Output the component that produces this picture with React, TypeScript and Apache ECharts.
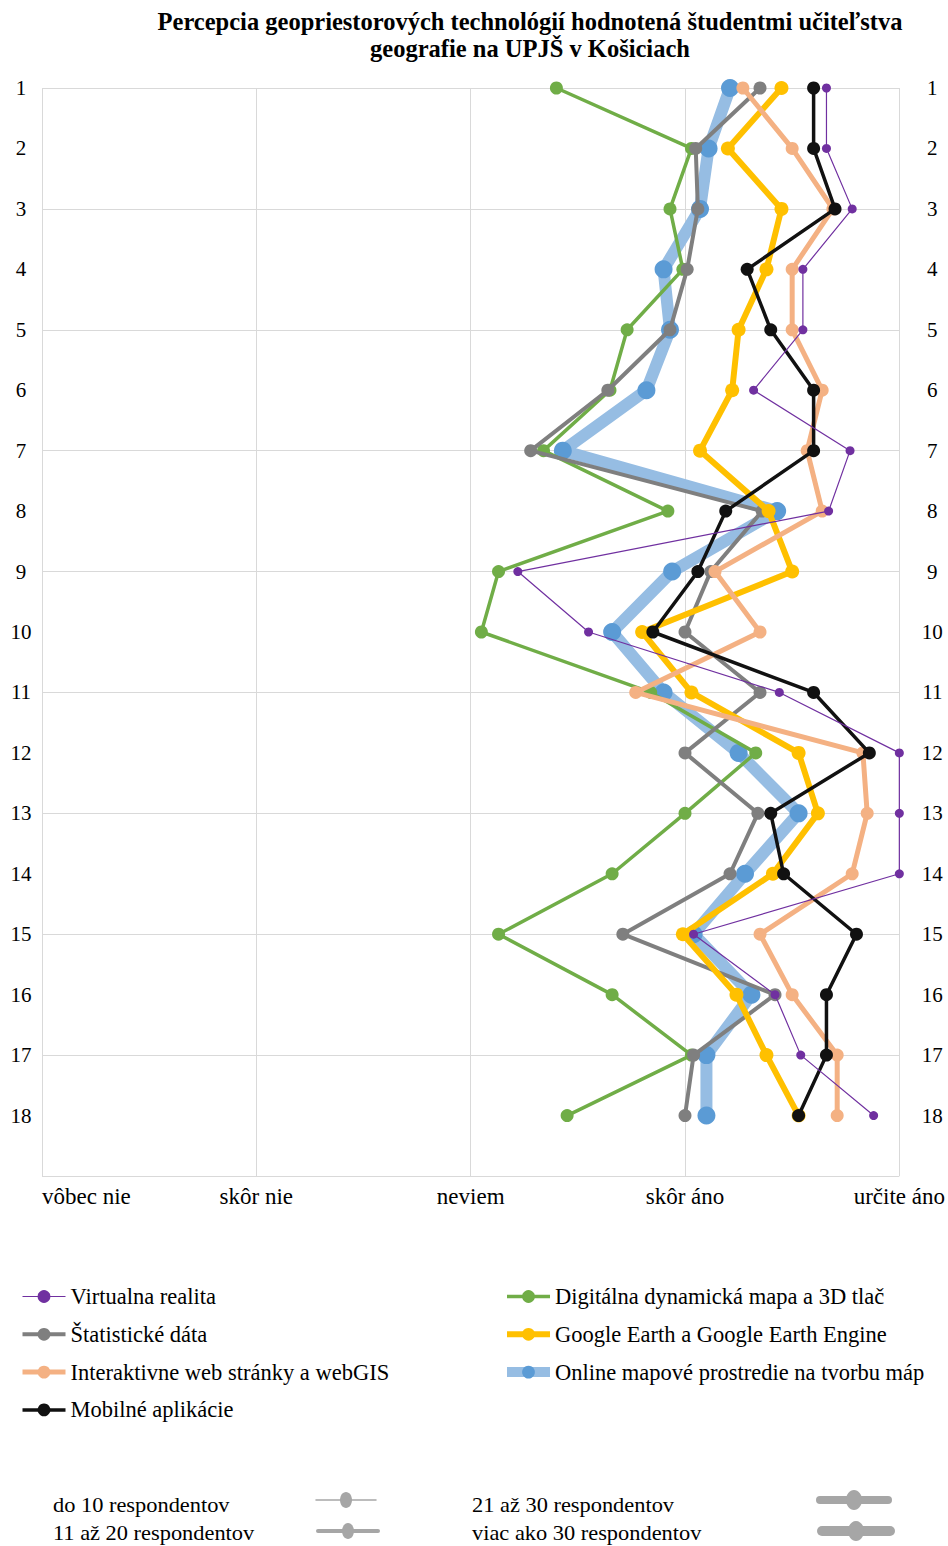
import React, { useEffect, useRef } from 'react';
import * as echarts from 'echarts';

const xLabels = ['vôbec nie', 'skôr nie', 'neviem', 'skôr áno', 'určite áno'];
const itemNumbers = [1, 2, 3, 4, 5, 6, 7, 8, 9, 10, 11, 12, 13, 14, 15, 16, 17, 18];

const virtualnaRealita = [4.66, 4.66, 4.78, 4.55, 4.55, 4.32, 4.77, 4.67, 3.22, 3.55, 4.44, 5.0, 5.0, 5.0, 4.04, 4.42, 4.54, 4.88];
const digitalnaMapa = [3.40, 4.03, 3.93, 3.99, 3.73, 3.65, 3.34, 3.92, 3.13, 3.05, 3.84, 4.33, 4.0, 3.66, 3.13, 3.66, 4.03, 3.45];
const statistickeData = [4.35, 4.05, 4.06, 4.01, 3.93, 3.64, 3.28, 4.36, 4.12, 4.0, 4.35, 4.0, 4.34, 4.21, 3.71, 4.42, 4.04, 4.0];
const googleEarth = [4.45, 4.20, 4.45, 4.38, 4.25, 4.22, 4.07, 4.39, 4.50, 3.80, 4.03, 4.53, 4.62, 4.41, 3.99, 4.24, 4.38, 4.53];
const interaktivneWeb = [4.27, 4.50, 4.69, 4.50, 4.50, 4.64, 4.57, 4.64, 4.14, 4.35, 3.77, 4.83, 4.85, 4.78, 4.35, 4.50, 4.71, 4.71];
const onlineMapove = [4.21, 4.11, 4.07, 3.90, 3.93, 3.82, 3.43, 4.43, 3.94, 3.66, 3.90, 4.25, 4.53, 4.28, 4.04, 4.31, 4.10, 4.10];
const mobilneAplikacie = [4.60, 4.60, 4.70, 4.29, 4.40, 4.60, 4.60, 4.19, 4.06, 3.85, 4.60, 4.86, 4.40, 4.46, 4.80, 4.66, 4.66, 4.53];

const seriesNames = [
  'Virtualna realita',
  'Digitálna dynamická mapa a 3D tlač',
  'Štatistické dáta',
  'Google Earth a Google Earth Engine',
  'Interaktivne web stránky a webGIS',
  'Online mapové prostredie na tvorbu máp',
  'Mobilné aplikácie',
];
const sizeLegendLabels = ['do 10 respondentov', '11 až 20 respondentov', '21 až 30 respondentov', 'viac ako 30 respondentov'];

const SERIF = '"Liberation Serif", "Times New Roman", serif';

function toPoints(values: number[]) {
  return values.map((v, i) => [v, itemNumbers[i]]);
}

export default function App() {
  const ref = useRef<HTMLDivElement>(null);
  useEffect(() => {
    if (!ref.current) return;
    const chart = echarts.init(ref.current, null, { renderer: 'svg' });

    const lineWidths: Record<string, number> = {};
    const mk = (name: string, values: number[], line: string, marker: string, width: number, size: number, z: number) => {
      lineWidths[name] = width;
      return {
        name,
        type: 'line',
        data: toPoints(values),
        xAxisIndex: 0,
        yAxisIndex: 0,
        symbol: 'circle',
        symbolSize: size,
        showSymbol: true,
        lineStyle: { color: line, width },
        itemStyle: { color: marker, borderWidth: 0 },
        z,
        emphasis: { disabled: true },
      };
    };

    const series = [
      mk(seriesNames[5], onlineMapove, '#96bde3', '#5b9bd5', 12, 18, 2),
      mk(seriesNames[1], digitalnaMapa, '#70ad47', '#70ad47', 3.5, 13, 3),
      mk(seriesNames[2], statistickeData, '#7f7f7f', '#7f7f7f', 4, 13, 4),
      mk(seriesNames[3], googleEarth, '#ffc000', '#ffc000', 6, 14, 5),
      mk(seriesNames[4], interaktivneWeb, '#f4b183', '#f4b183', 5, 13, 6),
      mk(seriesNames[6], mobilneAplikacie, '#111111', '#111111', 3.5, 13, 7),
      mk(seriesNames[0], virtualnaRealita, '#7030a0', '#7030a0', 1.2, 9, 8),
    ];

    const legendItem = (name: string) => ({
      name,
      lineStyle: { width: Math.min(lineWidths[name], 10) },
    });

    const sizeIcons = [
      { x: 53, y: 1505, ix1: 316, ix2: 376, iy: 1500, lw: 1.5, rx: 6, ry: 8, text: sizeLegendLabels[0] },
      { x: 53, y: 1533, ix1: 318, ix2: 378, iy: 1531, lw: 4, rx: 6, ry: 8, text: sizeLegendLabels[1] },
      { x: 472, y: 1505, ix1: 820, ix2: 888, iy: 1500, lw: 8, rx: 8, ry: 10, text: sizeLegendLabels[2] },
      { x: 472, y: 1533, ix1: 822, ix2: 890, iy: 1531, lw: 10, rx: 8, ry: 10, text: sizeLegendLabels[3] },
    ];
    const graphic: any[] = [];
    sizeIcons.forEach((s) => {
      graphic.push({
        type: 'text', x: s.x, y: s.y, scaleX: 1.12,
        style: { text: s.text, fill: '#000', fontFamily: SERIF, fontSize: 20, verticalAlign: 'middle' },
      });
      graphic.push({
        type: 'line', shape: { x1: s.ix1, y1: s.iy, x2: s.ix2, y2: s.iy },
        style: { stroke: '#a6a6a6', lineWidth: s.lw, lineCap: 'round' },
      });
      graphic.push({
        type: 'ellipse', shape: { cx: (s.ix1 + s.ix2) / 2, cy: s.iy, rx: s.rx, ry: s.ry },
        style: { fill: '#a6a6a6' },
      });
    });

    const yLabelFmt = (v: number) => (Number.isInteger(v) && v >= 1 && v <= 18 ? String(v) : '');

    const legendText = { fontFamily: SERIF, fontSize: 22.5, color: '#000' };

    chart.setOption({
      animation: false,
      backgroundColor: '#fff',
      title: {
        text: 'Percepcia geopriestorových technológií hodnotená študentmi učiteľstva\ngeografie na UPJŠ v Košiciach',
        left: 525,
        top: 3,
        textAlign: 'center',
        textStyle: { fontFamily: SERIF, fontWeight: 'bold', fontSize: 24.5, lineHeight: 27, color: '#000' },
      },
      grid: { left: 42, right: 48, top: 88, bottom: 370, containLabel: false },
      xAxis: {
        type: 'value',
        min: 1,
        max: 5,
        interval: 1,
        axisLine: { show: false },
        axisTick: { show: false },
        splitLine: { show: true, lineStyle: { color: '#d9d9d9', width: 1 } },
        axisLabel: {
          formatter: (v: number) => xLabels[Math.round(v) - 1] || '',
          fontFamily: SERIF,
          fontSize: 23,
          color: '#000',
          margin: 9,
          alignMinLabel: 'left',
          alignMaxLabel: 'center',
        },
      },
      yAxis: [
        {
          type: 'value', inverse: true, min: 1, max: 19, interval: 1, position: 'left',
          axisLine: { show: false }, axisTick: { show: false }, splitLine: { show: false },
          axisLabel: { formatter: yLabelFmt, fontFamily: SERIF, fontSize: 21, color: '#000', align: 'center', margin: 21 },
        },
        {
          type: 'value', inverse: true, min: 1, max: 19, interval: 1, position: 'right',
          axisLine: { show: false }, axisTick: { show: false }, splitLine: { show: false },
          axisLabel: { formatter: yLabelFmt, fontFamily: SERIF, fontSize: 21, color: '#000', align: 'center', margin: 33 },
        },
        {
          type: 'value', inverse: true, min: 0, max: 18, interval: 2, position: 'left',
          axisLine: { show: false }, axisTick: { show: false }, axisLabel: { show: false },
          splitLine: { show: true, lineStyle: { color: '#d9d9d9', width: 1 } },
        },
      ],
      legend: [
        {
          orient: 'vertical', left: 15, top: 1280, itemWidth: 43, itemHeight: 16, itemGap: 14.8,
          data: [seriesNames[0], seriesNames[2], seriesNames[4], seriesNames[6]].map(legendItem),
          textStyle: legendText, selectedMode: false,
        },
        {
          orient: 'vertical', left: 497, top: 1280, itemWidth: 43, itemHeight: 16, itemGap: 14.8,
          data: [seriesNames[1], seriesNames[3], seriesNames[5]].map(legendItem),
          textStyle: legendText, selectedMode: false,
        },
      ],
      graphic,
      series,
    });
    return () => chart.dispose();
  }, []);

  return <div ref={ref} style={{ position: 'absolute', left: 0, top: 0, width: 948, height: 1546 }} />;
}
